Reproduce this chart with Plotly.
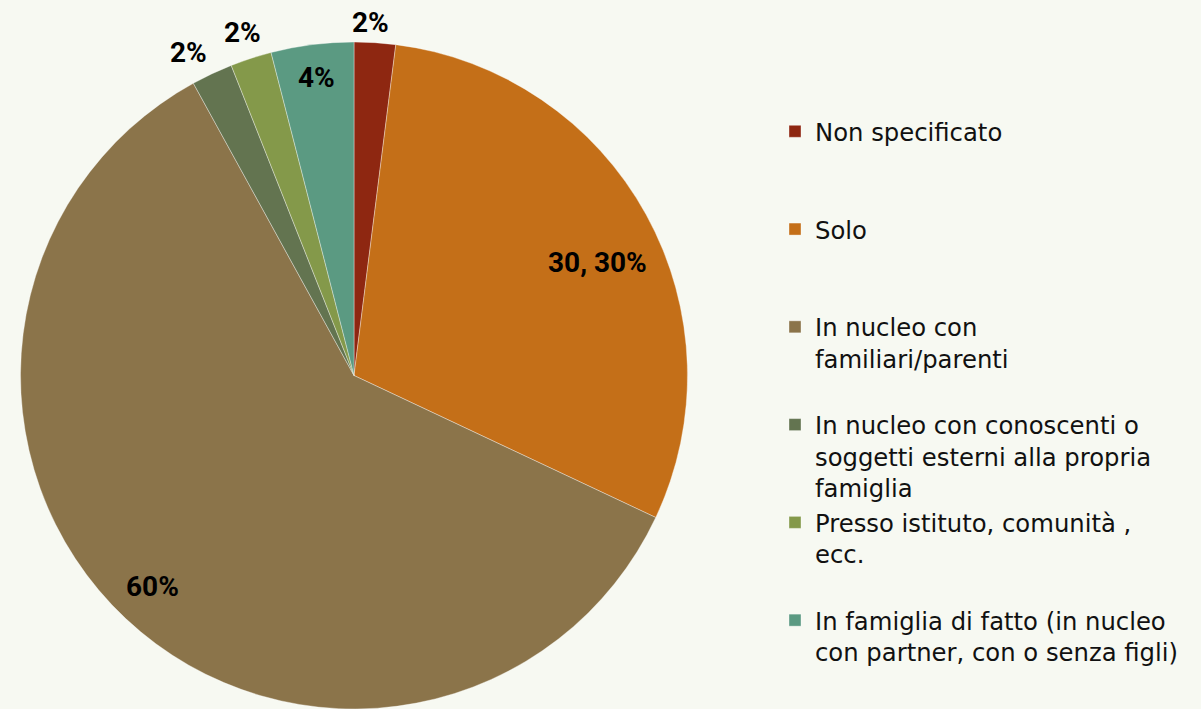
import math
import plotly.graph_objects as go

# ---- data ----
categories = [
    "Non specificato",
    "Solo",
    "In nucleo con<br>familiari/parenti",
    "In nucleo con conoscenti o<br>soggetti esterni alla propria<br>famiglia",
    "Presso istituto, comunità ,<br>ecc.",
    "In famiglia di fatto (in nucleo<br>con partner, con o senza figli)",
]
values = [2, 30, 60, 2, 2, 4]
colors = ["#8e2711", "#c46f18", "#8b744a", "#637450", "#84994a", "#5b9a82"]
show_value = [False, True, False, False, False, False]
label_radius = [1.06, 0.805, 0.875, 1.088, 1.08, 0.90]
label_angle_shift = [-1.0, 3.8, 0.5, -2.0, 0.0, 0.0]  # degrees

W, H = 1201, 709
CX, CY, R = 354.0, 375.5, 333.5  # pie centre / radius in px

# pad legend entries to 3 lines so items are evenly spaced
def pad(lbl, n=3):
    k = lbl.count("<br>") + 1
    return lbl + "<br> " * (n - k)

legend_labels = [pad(c) for c in categories[:-1]] + [categories[-1]]

fig = go.Figure()
fig.add_trace(go.Pie(
    labels=legend_labels,
    values=values,
    sort=False,
    direction="clockwise",
    rotation=0,
    marker=dict(colors=colors, line=dict(color="rgba(255,255,255,0.45)", width=0.8)),
    textinfo="none",
    hoverinfo="label+value+percent",
    domain=dict(x=[(CX - R) / W, (CX + R) / W], y=[0, 1 - (CY - R) / H]),
))

# data labels, positioned from slice mid-angles
total = sum(values)
cum = 0
annotations = []
for v, sv, f, da in zip(values, show_value, label_radius, label_angle_shift):
    mid = (cum + v / 2) / total * 2 * math.pi + math.radians(da)
    cum += v
    pct = round(v / total * 100)
    txt = f"{v}, {pct}%" if sv else f"{pct}%"
    px = CX + f * R * math.sin(mid)
    py = CY - f * R * math.cos(mid)
    annotations.append(dict(
        x=px / W, y=1 - py / H, xref="paper", yref="paper",
        text=txt, showarrow=False, xanchor="center", yanchor="middle",
        font=dict(family="Roboto", size=28, color="#000000", weight="bold"),
    ))

fig.update_layout(
    width=W, height=H,
    margin=dict(l=0, r=0, t=0, b=0, autoexpand=False),
    paper_bgcolor="#f7f9f2",
    plot_bgcolor="#f7f9f2",
    annotations=annotations,
    showlegend=True,
    legend=dict(
        x=775 / W, y=1 - 109 / H, xanchor="left", yanchor="top",
        font=dict(family="DejaVu Sans", size=24.3, color="#111111"),
        valign="top", tracegroupgap=0, bgcolor="rgba(0,0,0,0)",
    ),
)

fig.write_html("out.html", config={"displayModeBar": False},
               post_script="document.body.style.margin='0';")
